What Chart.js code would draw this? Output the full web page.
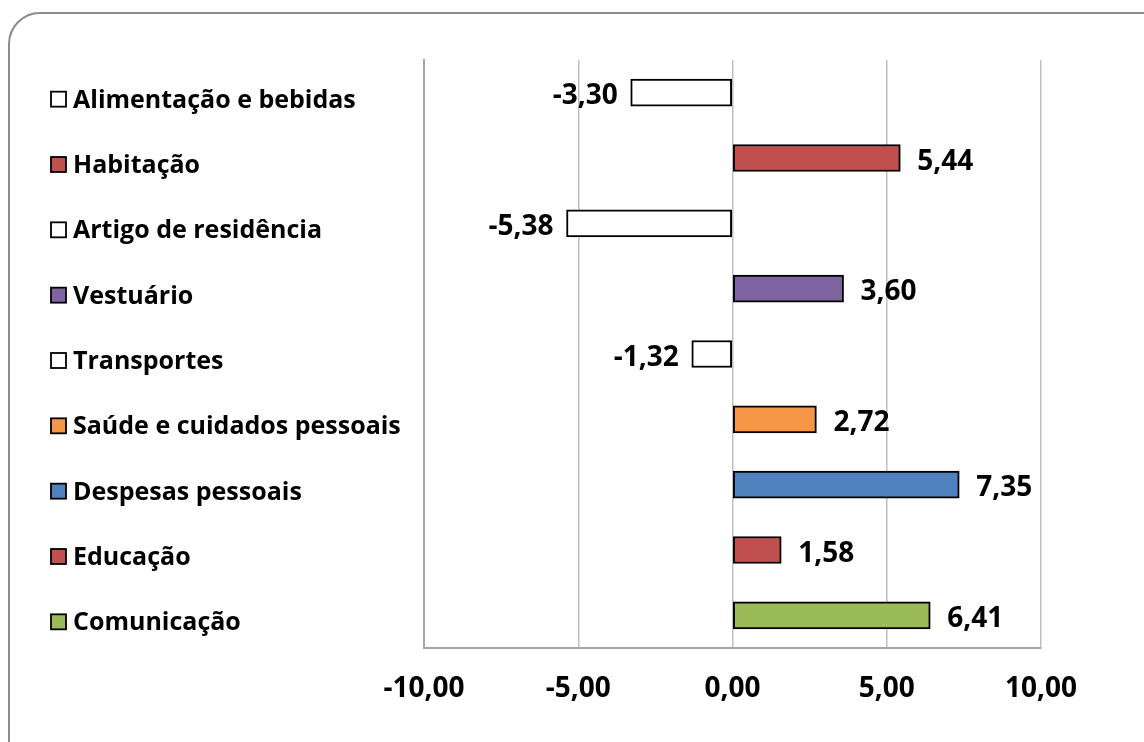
<!doctype html>
<html lang="pt-BR">
<head>
<meta charset="UTF-8" />
<title>Variação por grupo</title>
<script src="https://cdn.jsdelivr.net/npm/chart.js"></script>
<style>
  html, body { margin: 0; padding: 0; background: #fff; overflow: hidden; }
  #moldura {
    position: absolute; left: 8px; top: 12px; width: 1200px; height: 800px;
    border: 2px solid #8c8c8c; border-radius: 32px; box-sizing: border-box;
  }
  #wrap { position: absolute; left: 0; top: 0; width: 1144px; height: 742px; }
</style>
</head>
<body>
<div id="moldura"></div>
<div id="wrap"><canvas id="grafico"></canvas></div>
<script>
const categorias = ['Alimentação e bebidas', 'Habitação', 'Artigo de residência', 'Vestuário',
  'Transportes', 'Saúde e cuidados pessoais', 'Despesas pessoais', 'Educação', 'Comunicação']
const valores = [-3.30, 5.44, -5.38, 3.60, -1.32, 2.72, 7.35, 1.58, 6.41]
const cores = ['#ffffff', '#c0504d', '#ffffff', '#8064a2', '#ffffff', '#f79646', '#4f81bd', '#c0504d', '#9bbb59']
const ticksX = [-10, -5, 0, 5, 10]

const familia = '"Open Sans", sans-serif'
const fmt = (v) => v.toFixed(2).replace('.', ',')

// quadradinhos + nomes das categorias + rótulos dos valores
const extras = {
  id: 'extras',
  afterDatasetsDraw(chart) {
    const ctx = chart.ctx
    const yScale = chart.scales.y
    const meta = chart.getDatasetMeta(0)
    ctx.save()
    ctx.textBaseline = 'alphabetic'
    categorias.forEach((c, i) => {
      const y = yScale.getPixelForTick(i)
      ctx.fillStyle = cores[i]
      ctx.fillRect(51, y - 1, 15, 15)
      ctx.strokeStyle = '#000'
      ctx.lineWidth = 1.8
      ctx.strokeRect(51, y - 1, 15, 15)

      ctx.fillStyle = '#000'
      ctx.font = `bold 25px ${familia}`
      ctx.textAlign = 'left'
      ctx.fillText(c, 73, y + 15)

      const bar = meta.data[i]
      ctx.font = `bold 28px ${familia}`
      if (valores[i] >= 0) {
        ctx.textAlign = 'left'
        ctx.fillText(fmt(valores[i]), bar.x + 17, y + 11.5)
      } else {
        ctx.textAlign = 'right'
        ctx.fillText(fmt(valores[i]), bar.x - 13, y + 11.5)
      }
    })
    ctx.restore()
  }
}

new Chart(document.getElementById('grafico'), {
  type: 'bar',
  data: {
    labels: categorias,
    datasets: [{
      data: valores,
      backgroundColor: cores,
      borderColor: '#000',
      borderWidth: 2,
      borderSkipped: false,
      barThickness: 27
    }]
  },
  options: {
    indexAxis: 'y',
    responsive: true,
    maintainAspectRatio: false,
    animation: false,
    layout: { padding: { left: 72, top: 60, right: 103, bottom: 0 } },
    plugins: { legend: { display: false }, tooltip: { enabled: false } },
    scales: {
      x: {
        min: -10, max: 10,
        afterBuildTicks: (s) => { s.ticks = ticksX.map((v) => ({ value: v })) },
        afterFit: (s) => { s.height = 94 },
        grid: { color: '#c0c0c0', lineWidth: 1.5, drawTicks: false },
        border: { color: '#a6a6a6', width: 2 },
        ticks: { font: { family: familia, size: 28, weight: 'bold' }, color: '#000', padding: 24, callback: (v) => fmt(v) }
      },
      y: {
        grid: { display: false, drawTicks: false },
        border: { color: '#a6a6a6', width: 2 },
        afterFit: (s) => { s.width = 352 },
        ticks: { display: false }
      }
    }
  },
  plugins: [extras]
})
</script>
</body>
</html>
